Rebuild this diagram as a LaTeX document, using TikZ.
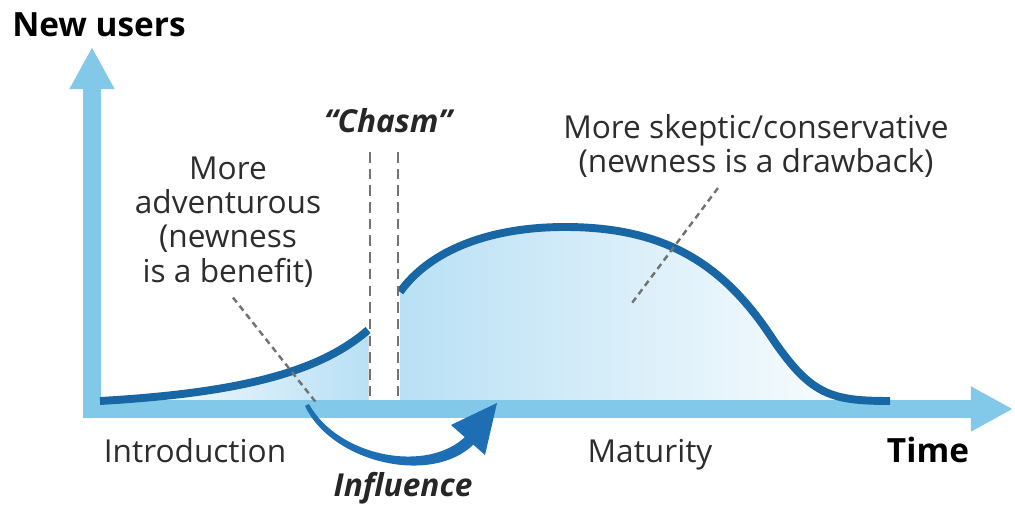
\documentclass[tikz,border=0pt]{standalone}
\usepackage{fontspec}
\setmainfont{Open Sans}
\usepackage{xcolor}
\usetikzlibrary{arrows.meta,positioning,calc}
\definecolor{axisblue}{RGB}{130,200,232}
\definecolor{curveblue}{RGB}{24,102,163}
\definecolor{inflblue}{RGB}{30,110,180}
\definecolor{fillblue}{RGB}{185,224,245}
\definecolor{leadgray}{RGB}{115,115,115}
\definecolor{textgray}{RGB}{45,45,45}

\begin{document}
\begin{tikzpicture}[x=0.02cm, y=-0.02cm,
    axisarrow/.style={draw=axisblue, line width=10pt, -{Triangle[length=24pt,width=24pt]}},
    curve/.style={draw=curveblue, line width=4.5pt},
    chasmline/.style={draw=leadgray, line width=1.7pt, dash pattern=on 6pt off 3.5pt},
    leader/.style={draw=leadgray, line width=1.4pt, dash pattern=on 3.5pt off 2.5pt},
    lbl/.style={font=\fontsize{18}{19.5}\selectfont, text=textgray, inner sep=0pt, align=center},
    bold lbl/.style={font=\fontsize{19}{21}\selectfont\bfseries, text=black, inner sep=0pt},
    emph lbl/.style={font=\fontsize{18}{20}\selectfont\bfseries\itshape, text=black!85, inner sep=0pt}
]
\useasboundingbox (0,0) rectangle (1015,506);

% shaded areas under the two parts of the curve
\fill[left color=white, right color=fillblue] (100,401) .. controls (240,393) and (320,372) .. (368,330) -- (368,401) -- cycle;
\fill[left color=fillblue, right color=white] (400,292) .. controls (430,250) and (490,227) .. (565,227)
    .. controls (660,227) and (720,260) .. (770,335) .. controls (810,395) and (830,401) .. (890,401) -- (400,401) -- cycle;

% axes
\coordinate (ybot) at (92,418);
\coordinate (ytop) at (92,47);
\coordinate (xleft) at (83,409);
\coordinate (xright) at (1013,409);
\draw[axisarrow] (ybot) -- (ytop);
\draw[axisarrow] (xleft) -- (xright);

% adoption curve
\draw[curve] (100,401) .. controls (240,393) and (320,372) .. (368,330);
\draw[curve] (400,292) .. controls (430,250) and (490,227) .. (565,227)
    .. controls (660,227) and (720,260) .. (770,335) .. controls (810,395) and (830,401) .. (890,401);

% the chasm
\coordinate (chasm l top) at (370,152);
\coordinate (chasm l bot) at (370,400);
\coordinate (chasm r top) at (398,152);
\coordinate (chasm r bot) at (398,400);
\draw[chasmline] (chasm l top) -- (chasm l bot);
\draw[chasmline] (chasm r top) -- (chasm r bot);

% labels
\node[bold lbl, anchor=base] (yname) at (99,37) {New users};
\node[emph lbl, anchor=base] (chasm) at (388,133) {``Chasm''};
\node[lbl] (adv) at (228,222) {More\\adventurous\\(newness\\is a benefit)};
\node[lbl] (skeptic) at (756,146) {More skeptic/conservative\\(newness is a drawback)};
\node[lbl, anchor=base] (intro) at (195,463) {Introduction};
\node[lbl, anchor=base] (mature) at (650,463) {Maturity};
\node[bold lbl, anchor=base] (time) at (928,463) {Time};
\node[emph lbl, anchor=base] (influence) at (403,497) {Influence};

% leaders
\coordinate (adv end) at (318,405);
\coordinate (skeptic end) at (632,303);
\draw[leader] ($(adv.south)+(5,10)$) -- (adv end);
\draw[leader] ($(skeptic.south)+(-38,10)$) -- (skeptic end);

% influence arrow (tapered)
\coordinate (infl tail) at (307,405);
\coordinate (infl tip) at (497,403);
\fill[inflblue] (305,406) .. controls (332,463) and (432,486) .. (474,444)
    -- (466,436) .. controls (428,474) and (338,457) .. (309,404) -- cycle;
\fill[inflblue] (infl tip) -- (451,425) -- (485,455) -- cycle;
\end{tikzpicture}
\end{document}
